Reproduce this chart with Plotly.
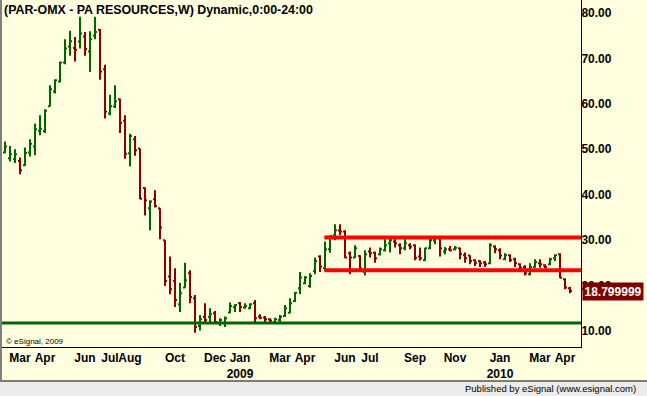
import plotly.graph_objects as go
import pandas as pd

# ---- data (weekly bars, PAR-OMX) ----
first_week = "2008-02-11"
opens = [49.3, 48.0, 47.8, 47.4, 46.5, 49.3, 50.6, 54.1, 54.0, 59.5,
         62.7, 64.9, 69.1, 72.6, 72.3, 73.7, 74.8, 71.5, 75.0, 76.3,
         67.6, 57.9, 59.4, 61.0, 56.3, 49.1, 52.2, 50.2, 41.5, 37.0,
         39.0, 37.0, 30.0, 22.0, 21.0, 15.9, 19.6, 22.7, 17.2, 11.1,
         13.1, 13.1, 13.9, 11.7, 11.7, 14.1, 15.3, 16.1, 15.2, 15.0,
         16.1, 13.2, 13.0, 12.6, 12.0, 12.4, 13.3, 14.0, 16.6, 19.4,
         20.5, 19.9, 23.2, 26.4, 23.8, 28.0, 31.1, 32.1, 31.9, 27.1,
         26.2, 26.5, 23.0, 27.5, 27.2, 26.9, 27.8, 29.3, 29.7, 28.9,
         28.2, 28.9, 28.9, 26.4, 25.6, 28.2, 29.9, 30.6, 27.5, 28.0,
         28.0, 28.2, 26.7, 26.6, 25.6, 25.4, 25.1, 24.9, 28.6, 27.8,
         25.8, 26.7, 25.8, 24.7, 24.1, 22.5, 24.1, 24.9, 24.5, 24.7,
         26.0, 26.9, 21.4, 19.4]
highs = [51.7, 50.7, 50.0, 48.2, 50.4, 52.2, 55.7, 57.5, 58.8, 64.1,
         65.4, 69.3, 74.2, 76.1, 74.7, 79.2, 75.8, 76.0, 79.2, 76.5,
         68.6, 62.0, 64.1, 61.2, 57.5, 53.4, 52.9, 50.2, 41.6, 38.8,
         41.0, 37.0, 30.0, 26.4, 23.8, 20.6, 25.0, 23.4, 17.9, 13.5,
         16.1, 15.0, 14.4, 12.8, 13.2, 16.3, 15.9, 16.4, 16.1, 16.1,
         16.8, 13.7, 13.3, 12.8, 12.9, 13.5, 15.7, 17.2, 18.6, 23.0,
         22.1, 22.7, 26.2, 26.7, 29.7, 31.1, 33.5, 33.5, 32.2, 27.5,
         28.9, 26.7, 27.8, 28.4, 27.5, 28.4, 30.2, 30.8, 30.6, 29.3,
         30.4, 29.3, 29.1, 28.4, 28.3, 30.5, 30.9, 30.8, 28.5, 28.7,
         28.7, 28.3, 27.3, 26.7, 25.8, 25.6, 25.4, 29.3, 28.9, 28.2,
         27.1, 26.9, 26.1, 24.9, 24.5, 24.9, 25.8, 25.8, 24.7, 26.1,
         26.9, 27.1, 21.6, 19.75]
lows = [49.1, 47.3, 47.0, 44.5, 46.3, 48.4, 48.7, 53.1, 53.6, 59.4,
        62.3, 64.7, 68.7, 70.6, 69.3, 72.2, 70.6, 67.0, 74.2, 65.3,
        56.8, 57.5, 59.1, 53.6, 47.9, 46.2, 48.6, 39.0, 35.4, 32.2,
        37.2, 30.2, 19.9, 18.1, 15.3, 14.2, 19.5, 16.1, 9.6, 10.1,
        12.0, 12.0, 11.7, 11.1, 10.9, 13.9, 14.2, 14.2, 14.9, 14.8,
        11.7, 12.6, 11.7, 11.7, 11.7, 12.0, 13.1, 13.9, 16.4, 18.1,
        20.3, 19.5, 22.5, 23.0, 23.2, 27.2, 30.0, 31.1, 26.0, 22.5,
        26.0, 23.4, 22.2, 26.2, 25.0, 26.6, 27.5, 27.3, 28.4, 26.9,
        27.8, 28.0, 25.6, 25.5, 25.4, 28.0, 29.1, 26.4, 26.9, 27.5,
        27.7, 25.8, 25.0, 24.7, 24.3, 24.1, 24.1, 24.7, 27.1, 25.8,
        25.6, 25.2, 24.1, 23.0, 22.2, 22.2, 23.9, 23.9, 23.8, 24.5,
        25.4, 21.6, 19.2, 18.3]
closes = [50.6, 48.9, 48.9, 45.4, 49.2, 51.2, 54.4, 54.5, 58.5, 63.2,
          65.2, 69.1, 72.2, 73.8, 71.9, 75.5, 72.1, 74.2, 75.8, 67.1,
          58.3, 59.5, 60.6, 55.8, 49.0, 52.9, 49.8, 39.1, 38.8, 38.5,
          37.5, 32.8, 21.0, 19.2, 16.8, 18.3, 21.2, 17.5, 10.9, 12.6,
          12.4, 13.7, 12.0, 12.4, 12.8, 15.5, 15.7, 15.3, 15.5, 15.9,
          12.8, 12.9, 12.6, 12.3, 12.6, 13.1, 15.0, 16.1, 18.4, 21.8,
          21.8, 22.1, 25.4, 24.2, 28.0, 30.9, 32.2, 31.9, 26.2, 26.2,
          28.2, 23.8, 26.9, 27.1, 26.0, 28.0, 28.9, 30.0, 29.3, 28.2,
          29.3, 28.6, 26.1, 26.0, 28.2, 30.0, 30.4, 28.2, 28.0, 27.8,
          28.3, 26.9, 26.0, 25.4, 25.0, 24.9, 24.7, 28.9, 28.0, 26.6,
          26.7, 25.6, 24.9, 23.9, 22.7, 24.1, 25.2, 24.7, 24.1, 25.8,
          26.7, 21.7, 19.6, 18.8]

support_level = 11.76
range_top = 30.6
range_bottom = 23.4
range_start = "2009-05-03"
last_price_text = "18.799999"

tick_dates = ["2008-03-03", "2008-04-07", "2008-06-02", "2008-07-07", "2008-08-04",
              "2008-10-06", "2008-12-01", "2009-01-05", "2009-03-02", "2009-04-06",
              "2009-06-01", "2009-07-06", "2009-09-07", "2009-11-02", "2010-01-04",
              "2010-03-01", "2010-04-05"]
tick_labels = ["Mar", "Apr", "Jun", "Jul", "Aug", "Oct", "Dec", "Jan<br>2009", "Mar", "Apr",
               "Jun", "Jul", "Sep", "Nov", "Jan<br>2010", "Mar", "Apr"]
y_ticks = [10, 20, 30, 40, 50, 60, 70, 80]

dates = pd.date_range(first_week, periods=len(opens), freq="7D")

W, H = 647, 396
ML, MR, MT, MB = 1, 66, 0, 49
PW = W - ML - MR
PH = H - MT - MB

def px_x(px):
    return (px - ML) / PW

def px_y(py):
    return (H - MB - py) / PH

BG = "#FFFFE0"
FONT = "Liberation Sans, Arial, sans-serif"

x_start = dates[0] - pd.Timedelta(days=5.6)
x_end = dates[-1] + pd.Timedelta(days=15.4)

fig = go.Figure()
fig.add_trace(go.Ohlc(
    x=dates, open=opens, high=highs, low=lows, close=closes,
    increasing=dict(line=dict(color="#006400", width=2)),
    decreasing=dict(line=dict(color="#8B0000", width=2)),
    tickwidth=0.4, hoverinfo="skip", showlegend=False,
))

shapes = [
    dict(type="line", xref="paper", yref="y", x0=0, x1=1, y0=support_level, y1=support_level,
         line=dict(color="#006400", width=3), layer="above"),
    dict(type="line", xref="x", yref="y", x0=range_start, x1=x_end, y0=range_top, y1=range_top,
         line=dict(color="#FF0000", width=4), layer="above"),
    dict(type="line", xref="x", yref="y", x0=range_start, x1=x_end, y0=range_bottom, y1=range_bottom,
         line=dict(color="#FF0000", width=4), layer="above"),
    # status bar
    dict(type="rect", xref="paper", yref="paper", x0=px_x(0), x1=px_x(W), y0=px_y(H), y1=px_y(381.5),
         fillcolor="#ECECEC", line=dict(width=0), layer="below"),
    dict(type="line", xref="paper", yref="paper", x0=px_x(0), x1=px_x(W), y0=px_y(381), y1=px_y(381),
         line=dict(color="black", width=1)),
    # left gray border
    dict(type="line", xref="paper", yref="paper", x0=px_x(1), x1=px_x(1), y0=px_y(0), y1=px_y(381),
         line=dict(color="#808080", width=2)),
]

annotations = [
    dict(text="<b>(PAR-OMX - PA RESOURCES,W) Dynamic,0:00-24:00</b>", xref="paper", yref="paper",
         x=px_x(2), y=px_y(1), xanchor="left", yanchor="top", showarrow=False,
         font=dict(family=FONT, size=12.4, color="black")),
    dict(text="© eSignal, 2009", xref="paper", yref="paper", x=px_x(4), y=px_y(341),
         xanchor="left", yanchor="middle", showarrow=False,
         font=dict(family=FONT, size=8, color="black")),
    dict(text="Published by eSignal (www.esignal.com)", xref="paper", yref="paper",
         x=px_x(638), y=px_y(389), xanchor="right", yanchor="middle", showarrow=False,
         font=dict(family=FONT, size=9.5, color="black")),
    dict(text="<b>" + last_price_text + "</b>", xref="paper", yref="y", x=px_x(582), y=closes[-1],
         xanchor="left", yanchor="middle", showarrow=False, bgcolor="#800000", borderpad=1.5,
         font=dict(family=FONT, size=12, color="white")),
]

fig.update_layout(
    width=W, height=H,
    margin=dict(l=ML, r=MR, t=MT, b=MB, pad=0),
    paper_bgcolor=BG, plot_bgcolor=BG,
    shapes=shapes, annotations=annotations,
    xaxis=dict(
        type="date", range=[x_start, x_end], rangeslider=dict(visible=False),
        tickvals=tick_dates, ticktext=tick_labels, tickangle=0,
        tickfont=dict(family=FONT, size=12, color="black", weight="bold"),
        showgrid=False, zeroline=False, showline=True, linecolor="black", linewidth=1,
        ticks="", fixedrange=True,
    ),
    yaxis=dict(
        side="right", range=[6.48, 82.86],
        tickvals=y_ticks, ticktext=["%.2f" % v for v in y_ticks],
        tickfont=dict(family=FONT, size=12, color="black", weight="bold"),
        showgrid=False, zeroline=False, showline=True, linecolor="black", linewidth=1,
        ticks="", ticklabelstandoff=-3, fixedrange=True,
    ),
    showlegend=False,
)

fig.write_html("out.html")
